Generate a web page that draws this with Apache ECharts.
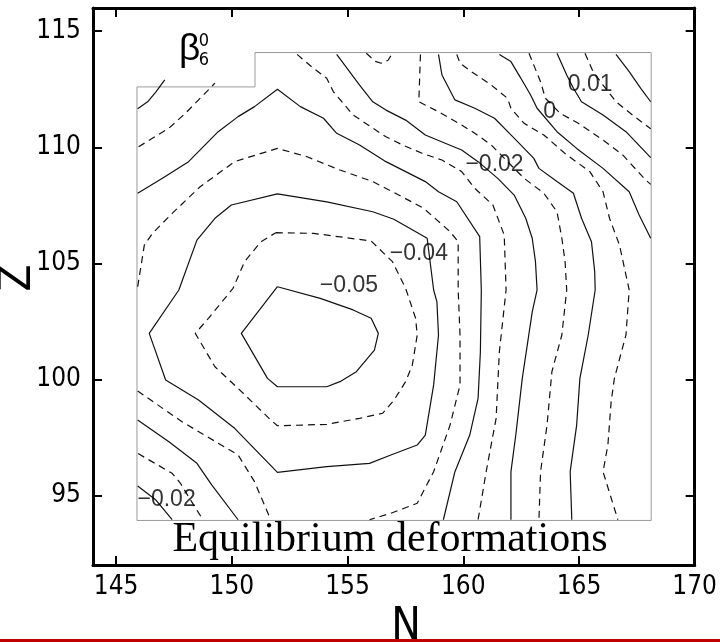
<!DOCTYPE html>
<html>
<head>
<meta charset="utf-8">
<script src="https://cdn.jsdelivr.net/npm/echarts@6/dist/echarts.min.js"></script>
<style>
  html, body { margin: 0; padding: 0; background: #fff; }
  #chart { width: 720px; height: 642px; }
</style>
</head>
<body>
<div id="chart"></div>
<script>
// Axis ticks (N on x, Z on y)
const xTicks = [145, 150, 155, 160, 165, 170];
const yTicks = [95, 100, 105, 110, 115];

// Contour levels of beta_6^0; multiples of 0.01 are solid, the half steps dashed
const levels = [-0.05, -0.045, -0.04, -0.035, -0.03, -0.025, -0.02, -0.015, -0.01, -0.005, 0, 0.005, 0.01, 0.015, 0.02];

// Contour paths as [N, Z] pairs
const levelMinus050 = [[151.97,103.99],[153.82,103.49],[155.24,102.99],[156.02,102.63],[156.33,101.98],[156.16,101.26],[155.38,100.33],[154.67,99.9],[154.1,99.68],[151.97,99.68],[151.54,100.04],[150.41,101.98],[151.97,103.99]];
const levelMinus045 = [[151.9,106.32],[153.53,106.29],[156.02,105.96],[156.94,105.07],[157.51,103.92],[157.94,102.63],[158.01,101.91],[157.8,100.62],[157.51,99.9],[157.01,99.11],[156.52,98.54],[155.52,98.32],[154.1,98.06],[151.97,98.0],[151.68,98.25],[150.27,99.61],[149.27,100.54],[148.42,101.98],[148.99,102.63],[150.05,103.92],[150.55,105.07],[151.26,105.93],[151.9,106.32]];
const levelMinus040 = [[147.71,103.85],[148.49,106.0],[149.27,106.94],[149.98,107.51],[151.97,107.99],[154.1,107.65],[156.09,107.22],[157.0,106.9],[158.44,106.08],[158.72,103.85],[158.86,103.35],[158.93,101.91],[158.72,99.76],[158.36,97.6],[158.01,97.17],[156.87,96.74],[155.95,96.38],[154.1,96.24],[151.97,95.99],[150.12,97.89],[148.56,99.11],[147.14,99.97],[146.43,101.98],[147.71,103.85]];
const levelMinus035a = [[145.93,103.99],[146.22,105.79],[146.57,106.29],[147.42,107.15],[148.63,108.3],[150.12,109.38],[151.97,109.95],[153.25,109.59],[154.67,109.02],[156.09,108.52],[156.95,108.08],[158.29,107.37],[159.43,106.36],[159.78,105.93],[159.78,103.85],[159.86,101.91],[159.86,99.76],[159.43,98.03],[158.72,96.02],[158.01,94.66],[156.87,94.23],[155.95,93.95]];
const levelMinus035b = [[145.93,99.5],[147.85,98.17],[150.27,96.74],[150.98,95.59],[151.68,93.95]];
const levelMinus030a = [[145.93,108.02],[147.0,108.66],[148.13,109.38],[149.41,110.67],[150.27,111.32],[150.98,111.75],[151.97,112.5],[152.96,111.75],[153.96,111.25],[154.53,110.6],[155.52,110.1],[156.66,109.38],[157.51,108.95],[158.36,108.52],[158.93,108.08],[159.72,107.65],[160.71,106.15],[160.78,103.85],[160.74,101.19],[160.64,99.18],[160.28,97.6],[159.64,96.02],[159.14,93.95]];
const levelMinus030b = [[145.93,98.25],[147.28,97.31],[148.49,96.38],[149.13,95.45],[150.27,93.95]];
const levelMinus025a = [[145.97,110.02],[147.28,110.82],[147.99,111.46],[148.56,112.04],[149.27,112.76]];
const levelMinus025b = [[152.82,114.0],[153.53,113.4],[154.1,112.97],[154.39,112.39],[155.24,111.39],[156.66,110.45],[157.37,110.1],[158.22,109.74],[159.08,109.45],[159.93,108.95],[160.5,108.23],[161.28,107.51],[161.77,106.22],[161.85,103.85],[161.56,101.19],[161.42,98.32],[160.99,96.02],[160.64,93.95]];
const levelMinus025c = [[145.95,96.8],[147.42,95.95],[147.78,95.52],[148.13,94.94],[148.75,93.95]];
const levelMinus020a = [[145.93,111.66],[146.36,111.96],[146.72,112.39],[147.1,112.9]];
const levelMinus020b = [[145.93,95.4],[146.72,94.8],[147.42,93.95]];
const levelMinus020c = [[154.53,114.0],[155.52,112.68],[156.09,111.96],[156.66,111.6],[157.51,111.17],[158.36,110.53],[159.22,110.17],[159.93,109.88],[160.64,109.38],[161.49,108.66],[162.2,107.94],[162.7,106.94],[162.98,106.08],[163.12,105.07],[163.19,103.85],[162.98,102.91],[162.55,100.04],[162.27,97.6],[162.06,96.02],[162.06,93.95]];
const levelMinus015a = [[155.81,114.05],[156.2,113.7],[156.45,113.62],[156.75,113.75],[156.94,114.05]];
const levelMinus015b = [[158.15,114.0],[158.08,111.96],[158.93,111.53],[159.93,110.96],[160.5,110.6],[161.21,110.1],[161.91,109.38],[162.63,108.66],[163.48,108.02],[164.05,107.22],[164.26,106.08],[164.4,105.07],[164.47,103.85],[164.26,101.91],[163.83,100.33],[163.62,98.03],[163.34,96.02],[163.27,93.95]];
const levelMinus010 = [[158.93,114.0],[159.08,113.11],[159.64,112.04],[160.5,111.68],[161.35,111.25],[162.06,110.53],[162.63,109.95],[163.05,109.52],[163.27,109.09],[164.05,108.52],[164.76,108.02],[165.11,106.94],[165.54,105.93],[165.68,104.64],[165.7,103.85],[165.4,101.91],[165.04,100.04],[164.9,98.03],[164.62,96.02],[164.69,93.95]];
const levelMinus005 = [[159.72,114.0],[159.86,113.62],[160.35,113.26],[161.21,112.68],[161.91,112.11],[162.06,111.68],[162.63,111.03],[163.48,110.53],[164.47,109.67],[165.47,108.95],[166.04,108.08],[166.32,106.94],[166.75,105.79],[167.17,103.85],[167.03,101.91],[166.53,100.04],[166.39,99.04],[166.25,97.17],[166.04,96.02],[166.68,93.95]];
const level000 = [[161.56,114.0],[162.06,113.69],[162.49,112.97],[162.91,112.25],[163.19,111.68],[164.05,110.67],[164.9,109.95],[166.04,109.09],[167.17,108.08],[167.6,107.08],[168.1,106.08]];
const level005 = [[162.84,114.05],[163.34,112.82],[163.55,112.11],[164.19,111.46],[164.97,111.03],[166.04,110.31],[166.89,109.67],[167.88,108.59],[168.1,108.4]];
const level010 = [[164.05,114.05],[164.47,113.11],[164.76,112.54],[165.11,111.96],[166.04,111.39],[167.03,110.67],[168.1,109.55]];
const level015 = [[165.26,114.05],[165.61,113.26],[166.04,112.68],[166.6,111.96],[167.31,111.39],[167.88,110.96],[168.1,110.8]];
const level020 = [[166.6,114.0],[167.17,113.26],[167.67,112.54],[168.1,111.96]];

// Level value -> the paths drawn for it
const contourPieces = [
  [-0.05,  [levelMinus050]],
  [-0.045, [levelMinus045]],
  [-0.04,  [levelMinus040]],
  [-0.035, [levelMinus035a, levelMinus035b]],
  [-0.03,  [levelMinus030a, levelMinus030b]],
  [-0.025, [levelMinus025a, levelMinus025b, levelMinus025c]],
  [-0.02,  [levelMinus020a, levelMinus020b, levelMinus020c]],
  [-0.015, [levelMinus015a, levelMinus015b]],
  [-0.01,  [levelMinus010]],
  [-0.005, [levelMinus005]],
  [0,      [level000]],
  [0.005,  [level005]],
  [0.01,   [level010]],
  [0.015,  [level015]],
  [0.02,   [level020]]
];

// In-line contour labels: text, N, Z
const labelTexts = ['−0.05', '−0.04', '−0.02', '−0.02', '0', '0.01'];
const labelN = [155.06, 158.08, 161.35, 147.18, 163.73, 165.48];
const labelZ = [104.02, 105.43, 109.27, 94.83, 111.53, 112.7];

// Outline of the computed (N, Z) region
const regionN = [145.9, 168.12, 168.12, 151.0, 151.0, 145.9, 145.9];
const regionZ = [93.92, 93.92, 114.08, 114.08, 112.6, 112.6, 93.92];

const AXIS_FONT = "'DejaVu Sans Condensed','DejaVu Sans',sans-serif";
const LABEL_FONT = "'Liberation Sans',Arial,sans-serif";

const chart = echarts.init(document.getElementById('chart'), null, { renderer: 'canvas' });

const series = [];
series.push({
  type: 'line',
  data: regionN.map((n, i) => [n, regionZ[i]]),
  symbol: 'none',
  silent: true,
  animation: false,
  clip: false,
  lineStyle: { color: '#9a9a9a', width: 1 },
  z: 2
});

contourPieces.forEach(([level, paths]) => {
  const solid = Math.round(level * 1000) % 10 === 0;
  paths.forEach(p => {
    series.push({
      type: 'line',
      name: String(level),
      data: p,
      symbol: 'none',
      silent: true,
      animation: false,
      clip: false,
      lineStyle: { color: '#111', width: 1.2, type: solid ? 'solid' : [7, 5] },
      z: 3
    });
  });
});

series.push({
  type: 'scatter',
  data: labelTexts.map((t, i) => ({ name: t, value: [labelN[i], labelZ[i]] })),
  symbolSize: 1,
  itemStyle: { color: 'rgba(0,0,0,0)' },
  silent: true,
  animation: false,
  label: {
    show: true,
    position: 'inside',
    formatter: '{b}',
    color: '#000',
    fontSize: 23,
    fontFamily: LABEL_FONT
  },
  z: 4
});

const axisLineStyle = { color: '#000', width: 3 };
const tickStyle = { color: '#000', width: 2 };

chart.setOption({
  animation: false,
  backgroundColor: '#fff',
  grid: { left: 93, right: 17, top: 8, bottom: 77, containLabel: false },
  xAxis: [
    {
      type: 'value', min: 144, max: 170, position: 'bottom',
      axisLine: { onZero: false, lineStyle: axisLineStyle },
      axisTick: { inside: true, length: 9, lineStyle: tickStyle, customValues: xTicks },
      axisLabel: { customValues: xTicks, color: '#000', fontSize: 26, fontFamily: AXIS_FONT, margin: 9 },
      splitLine: { show: false }
    },
    {
      type: 'value', min: 144, max: 170, position: 'top',
      axisLine: { onZero: false, lineStyle: axisLineStyle },
      axisTick: { inside: true, length: 9, lineStyle: tickStyle, customValues: xTicks },
      axisLabel: { show: false },
      splitLine: { show: false }
    }
  ],
  yAxis: [
    {
      type: 'value', min: 92, max: 116, position: 'left',
      axisLine: { onZero: false, lineStyle: axisLineStyle },
      axisTick: { inside: true, length: 9, lineStyle: tickStyle, customValues: yTicks },
      axisLabel: { customValues: yTicks, color: '#000', fontSize: 26, fontFamily: AXIS_FONT, margin: 12 },
      splitLine: { show: false }
    },
    {
      type: 'value', min: 92, max: 116, position: 'right',
      axisLine: { onZero: false, lineStyle: axisLineStyle },
      axisTick: { inside: true, length: 9, lineStyle: tickStyle, customValues: yTicks },
      axisLabel: { show: false },
      splitLine: { show: false }
    }
  ],
  series: series,
  graphic: [
    { type: 'text', x: 179, y: 50, style: { text: 'β', fontSize: 37, fontFamily: "'Liberation Sans',sans-serif", fill: '#000', align: 'left', verticalAlign: 'middle' }, z: 10 },
    { type: 'text', x: 204, y: 41, style: { text: '0', fontSize: 18, fontFamily: AXIS_FONT, fill: '#000', align: 'center', verticalAlign: 'middle' }, z: 10 },
    { type: 'text', x: 204, y: 60.5, style: { text: '6', fontSize: 18, fontFamily: AXIS_FONT, fill: '#000', align: 'center', verticalAlign: 'middle' }, z: 10 },
    { type: 'text', x: 390, y: 540, style: { text: 'Equilibrium deformations', fontSize: 42, fontFamily: "'Liberation Serif','Times New Roman',serif", fill: '#000', align: 'center', verticalAlign: 'middle' }, z: 10 },
    { type: 'text', x: 406, y: 628, style: { text: 'N', fontSize: 44, fontFamily: AXIS_FONT, fill: '#000', align: 'center', verticalAlign: 'middle' }, z: 10 },
    { type: 'text', x: 19, y: 278, rotation: Math.PI / 2, style: { text: 'Z', fontSize: 44, fontFamily: AXIS_FONT, fill: '#000', align: 'center', verticalAlign: 'middle' }, z: 10 },
    { type: 'rect', shape: { x: 0, y: 639, width: 720, height: 3 }, style: { fill: '#c00000' }, z: 11 }
  ]
});
</script>
</body>
</html>
